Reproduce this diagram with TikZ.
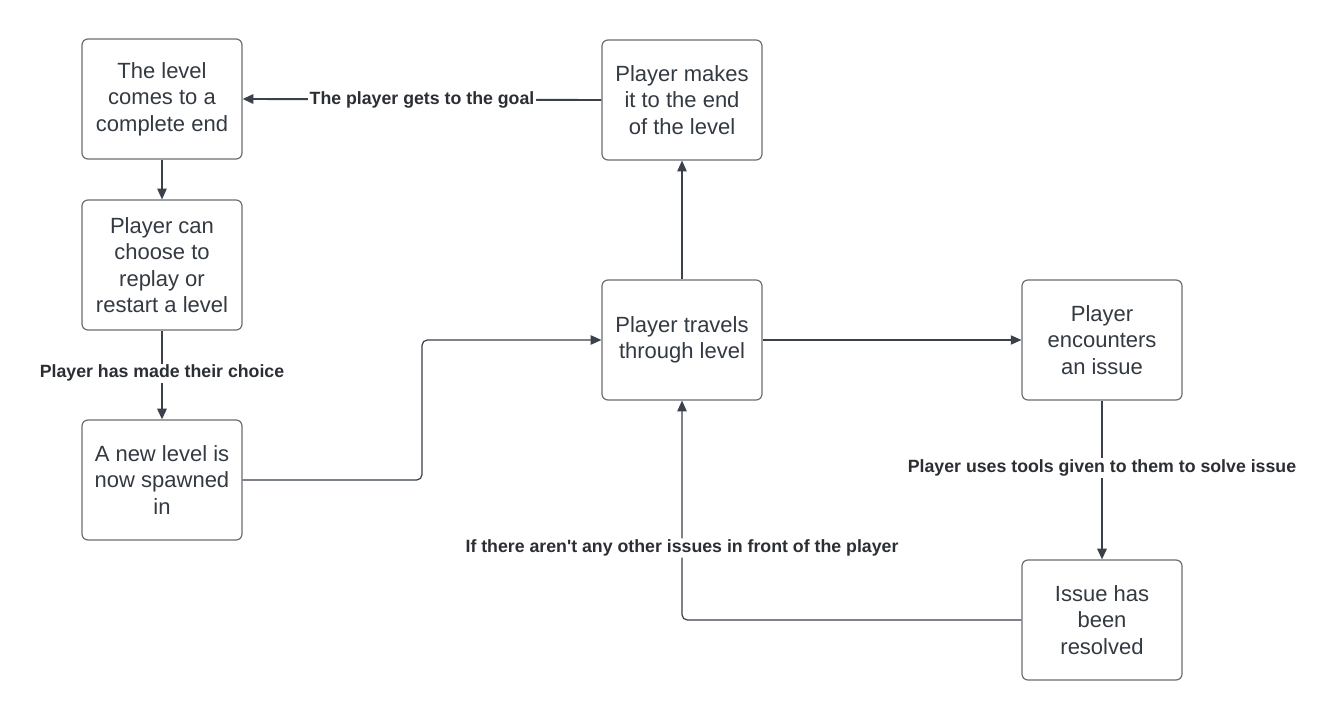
\documentclass[tikz,border=0pt]{standalone}
\usepackage{fontspec}
\setmainfont{Liberation Sans}
\usetikzlibrary{arrows.meta,calc}
\definecolor{linec}{HTML}{3A414A}
\definecolor{boxc}{HTML}{6A6E73}
\definecolor{txtc}{HTML}{333A42}
\definecolor{lblc}{HTML}{2B2E33}
\tikzset{
  box/.style={draw=boxc, line width=0.9pt, rounded corners=4.5pt, fill=white,
    minimum width=120pt, minimum height=90pt, align=center, text=txtc,
    font=\fontsize{16.5}{19.9}\selectfont, inner sep=0pt},
  thinc/.style={draw=linec, line width=0.9pt, -{Triangle[length=8pt,width=7pt]}},
  conn/.style={draw=linec, line width=1.4pt, -{Triangle[length=8pt,width=7pt]}},
  lbl/.style={fill=white, text=lblc, font=\fontsize{13.3}{16}\selectfont\bfseries, inner sep=1pt}
}
\begin{document}
\begin{tikzpicture}[x=0.75pt,y=-0.75pt]
\useasboundingbox[fill=white] (0,0) rectangle (1337,720);
\node[box] (A) at (162,99) {The level\\comes to a\\complete end};
\node[box, minimum height=97.5pt] (B) at (162,265) {Player can\\choose to\\replay or\\restart a level};
\node[box] (C) at (162,480) {A new level is\\now spawned\\in};
\node[box] (D) at (682,100) {Player makes\\it to the end\\of the level};
\node[box] (E) at (682,340) {Player travels\\through level};
\node[box] (F) at (1102,340) {Player\\encounters\\an issue};
\node[box] (G) at (1102,620) {Issue has\\been\\resolved};

\draw[conn] (D.west) -- node[lbl] {The player gets to the goal} (A.east);
\draw[thinc] (A.south) -- (B.north);
\draw[conn] (B.south) -- node[lbl, pos=0.48] {Player has made their choice} (C.north);
\draw[thinc, rounded corners=4pt] (C.east) -| ($(C.east)!0.5!(E.west)$) |- (E.west);
\draw[thinc] (E.north) -- (D.south);
\draw[thinc] (E.east) -- (F.west);
\draw[conn] (F.south) -- node[lbl, pos=0.425] {Player uses tools given to them to solve issue} (G.north);
\draw[thinc, rounded corners=4pt] (G.west) -| node[lbl, pos=0.664] {If there aren\textquotesingle t any other issues in front of the player} (E.south);
\end{tikzpicture}
\end{document}
